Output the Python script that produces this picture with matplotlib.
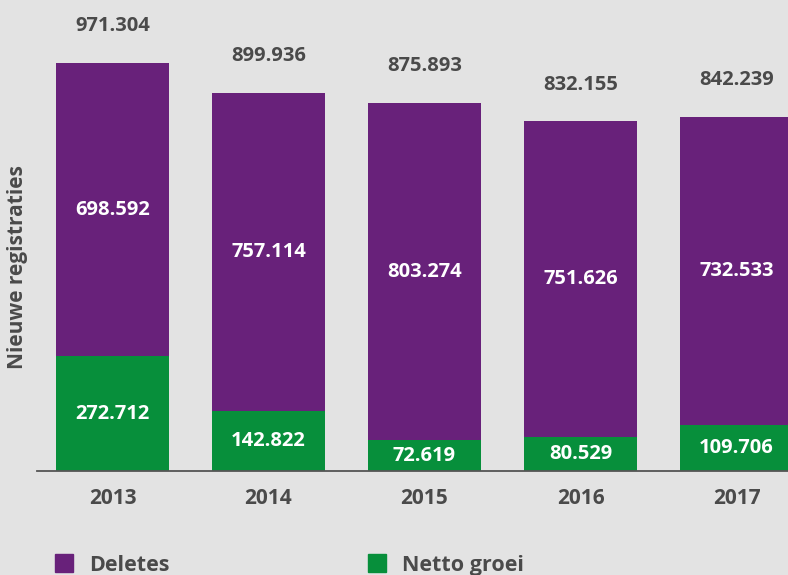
import numpy as np
import matplotlib.pyplot as plt
from matplotlib.patches import Patch

years = ['2013', '2014', '2015', '2016', '2017']
deletes = [698592, 757114, 803274, 751626, 732533]
netto = [272712, 142822, 72619, 80529, 109706]
totals = [971304, 899936, 875893, 832155, 842239]

PURPLE = '#68217a'
GREEN = '#078f3b'
BG = '#e3e3e3'
TXT = '#4a4a4a'
FAM = ['Open Sans', 'DejaVu Sans']

plt.rcParams['font.family'] = FAM
plt.rcParams['font.weight'] = 'bold'


def fmt(v):
    return f'{v:,}'.replace(',', '.')


fig = plt.figure(figsize=(7.88, 5.75), dpi=100, facecolor=BG)
ax = fig.add_axes([37 / 788, 104 / 575, 751 / 788, 471 / 575])
ax.set_facecolor(BG)

x = np.arange(len(years))
ax.bar(x, netto, width=0.724, color=GREEN)
ax.bar(x, deletes, width=0.724, bottom=netto, color=PURPLE)

for i in range(len(years)):
    ax.text(x[i], netto[i] / 2, fmt(netto[i]),
            ha='center', va='center', color='white', fontsize=14.5, fontweight='bold')
    ax.text(x[i], netto[i] + deletes[i] / 2, fmt(deletes[i]),
            ha='center', va='center', color='white', fontsize=14.5, fontweight='bold')
    ax.annotate(fmt(totals[i]), (x[i], totals[i]),
                xytext=(0, 23), textcoords='offset points',
                ha='center', va='baseline', color=TXT, fontsize=14.5, fontweight='bold')

ax.set_xlim(-0.484, 4.33)
ax.set_ylim(0, 1121400)
ax.set_xticks(x)
ax.set_xticklabels(years, color=TXT, fontsize=15, fontweight='bold')
ax.tick_params(axis='x', length=0, pad=12)
ax.set_yticks([])
for s in ['top', 'right', 'left']:
    ax.spines[s].set_visible(False)
ax.spines['bottom'].set_color('#555555')
ax.spines['bottom'].set_linewidth(1.3)

fig.text(18 / 788, 1 - 267 / 575, 'Nieuwe registraties', rotation=90,
         ha='center', va='center', color=TXT, fontsize=15, fontweight='bold')

legend_items = [('Deletes', PURPLE, 55), ('Netto groei', GREEN, 368)]
for label, col, px in legend_items:
    fig.legend([Patch(color=col)], [label], loc='center left',
               bbox_to_anchor=(px / 788, 1 - 565 / 575), frameon=False,
               borderpad=0, borderaxespad=0,
               handlelength=0.84, handleheight=0.9, handletextpad=0.74,
               labelcolor=TXT,
               prop={'size': 15.5, 'weight': 'bold', 'family': FAM})

fig.savefig('out.png', dpi=100, facecolor=BG)
